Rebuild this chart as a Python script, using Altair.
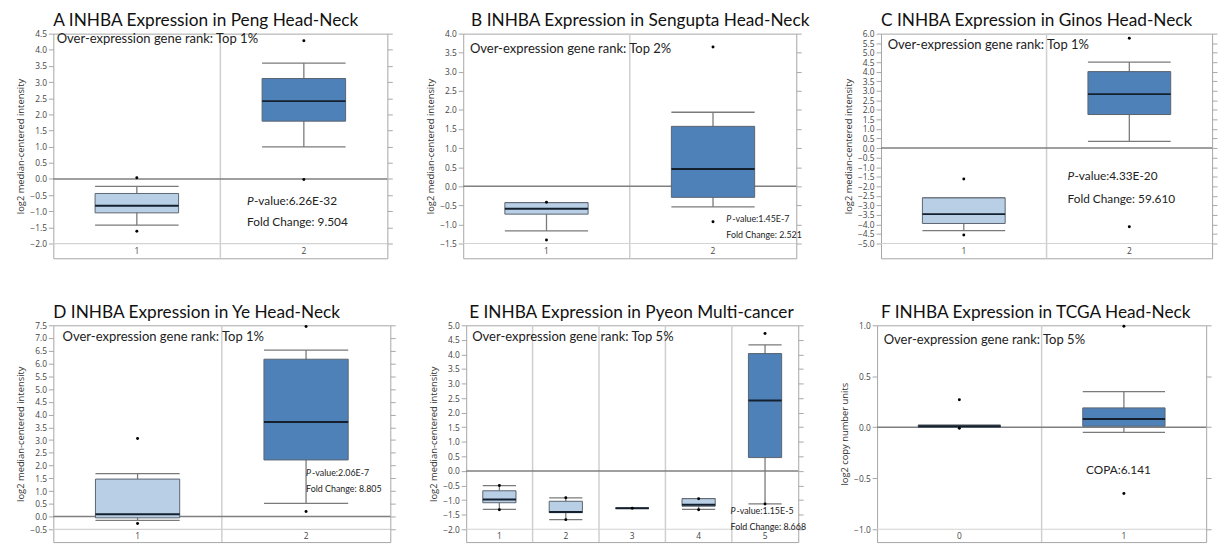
import altair as alt
import pandas as pd

FONT = "Lato"
AXFONT = "Open Sans"
LIGHT = "#B9CFE5"
DARK = "#4F81B9"

# ---------------- data ----------------
A_cats = ["1", "2"]
A_wlo = [-1.43, 0.99]
A_q1 = [-1.05, 1.79]
A_med = [-0.83, 2.41]
A_q3 = [-0.45, 3.11]
A_whi = [-0.23, 3.59]
A_out_cat = ["1", "1", "2", "2"]
A_out_val = [0.04, -1.62, 4.28, -0.02]

B_cats = ["1", "2"]
B_wlo = [-1.17, -0.54]
B_q1 = [-0.73, -0.29]
B_med = [-0.59, 0.45]
B_q3 = [-0.43, 1.57]
B_whi = [-0.43, 1.94]
B_out_cat = ["1", "1", "2", "2"]
B_out_val = [-0.42, -1.41, 3.65, -0.93]

C_cats = ["1", "2"]
C_wlo = [-4.33, 0.35]
C_q1 = [-3.95, 1.76]
C_med = [-3.46, 2.83]
C_q3 = [-2.61, 4.01]
C_whi = [-2.61, 4.51]
C_out_cat = ["1", "1", "2", "2"]
C_out_val = [-1.62, -4.55, 5.76, -4.12]

D_cats = ["1", "2"]
D_wlo = [-0.15, 0.52]
D_q1 = [-0.05, 2.22]
D_med = [0.09, 3.71]
D_q3 = [1.47, 6.17]
D_whi = [1.68, 6.53]
D_out_cat = ["1", "1", "2", "2"]
D_out_val = [3.06, -0.27, 7.45, 0.20]

E_cats = ["1", "2", "3", "4", "5"]
E_wlo = [-1.32, -1.67, -1.28, -1.32, -1.13]
E_q1 = [-1.09, -1.43, -1.28, -1.21, 0.46]
E_med = [-0.98, -1.41, -1.28, -1.16, 2.42]
E_q3 = [-0.68, -1.04, -1.28, -0.95, 4.03]
E_whi = [-0.50, -0.92, -1.28, -0.95, 4.33]
E_out_cat = ["1", "1", "2", "2", "3", "4", "4", "5", "5"]
E_out_val = [-0.50, -1.33, -0.92, -1.67, -1.28, -0.95, -1.33, 4.72, -1.13]

F_cats = ["0", "1"]
F_wlo = [0.0, -0.05]
F_q1 = [0.0, 0.01]
F_med = [0.01, 0.08]
F_q3 = [0.02, 0.19]
F_whi = [0.02, 0.35]
F_out_cat = ["0", "0", "1", "1"]
F_out_val = [0.27, -0.01, 0.99, -0.65]

Y_TITLE = "log2 median-centered intensity"
F_Y_TITLE = "log2 copy number units"


def ticks(lo, hi, step):
    out = []
    k = 0
    while lo + k * step <= hi + 1e-9:
        out.append(round(lo + k * step, 2))
        k += 1
    return out


def panel(title, cats, wlo, q1, med, q3, whi, out_cat, out_val, tvals, dmin, dmax,
          ytitle, width, height, rank_text, rank_xy, stats, stat_size, title_offset, title_dx):
    n = len(cats)
    box = pd.DataFrame({"cat": cats, "wlo": wlo, "q1": q1, "med": med, "q3": q3, "whi": whi})
    box["pos"] = list(range(1, n + 1))
    box["xl"] = box["pos"] - 0.25
    box["xr"] = box["pos"] + 0.25
    box["grp"] = ["normal"] * (n - 1) + ["tumor"]
    box["ylab"] = (min(tvals) + dmin) / 2
    outs = pd.DataFrame({"cat": out_cat, "val": out_val})
    outs["pos"] = [cats.index(c) + 1 for c in out_cat]
    divs = pd.DataFrame({"x": [i + 0.5 for i in range(1, n)]})
    zero = pd.DataFrame({"y": [0.0]})
    low = pd.DataFrame({"y": [min(tvals)]})

    xs = alt.Scale(domain=[0.5, n + 0.5], nice=False, zero=False)
    ys = alt.Scale(domain=[dmin, dmax], nice=False, zero=False)

    def X(f):
        return alt.X(f, type="quantitative", scale=xs, axis=None)

    def Y(f, axis=None):
        return alt.Y(f, type="quantitative", scale=ys, axis=axis)

    left_axis = alt.Axis(orient="left", values=tvals, format=".1f", title=ytitle, grid=False,
                         domain=False, tickSize=5, tickColor="#a8a8a8", labelFontSize=8.5,
                         labelFont=AXFONT, labelColor="#444", labelPadding=2,
                         titleFont=AXFONT, titleFontSize=9.5, titleFontWeight="normal",
                         titleColor="#333", titlePadding=4)
    right_axis = alt.Axis(orient="right", values=tvals, labels=False, title=None, grid=False,
                          domain=False, tickSize=5, tickColor="#a8a8a8")

    layers = []
    if n > 1:
        layers.append(alt.Chart(divs).mark_rule(color="#cfcfcf", strokeWidth=1.5).encode(x=X("x")))
    layers.append(alt.Chart(low).mark_rule(color="#d3d3d3", strokeWidth=1.2).encode(y=Y("y")))
    layers.append(alt.Chart(zero).mark_rule(color="#7f7f7f", strokeWidth=1.5).encode(y=Y("y")))
    layers.append(alt.Chart(box).mark_rule(color="#7a7a7a", strokeWidth=1.3).encode(
        x=X("pos"), y=Y("wlo", right_axis), y2="whi"))
    layers.append(alt.Chart(box).mark_rule(color="#7a7a7a", strokeWidth=1.3).encode(
        x=X("xl"), x2="xr", y=Y("whi")))
    layers.append(alt.Chart(box).mark_rule(color="#7a7a7a", strokeWidth=1.3).encode(
        x=X("xl"), x2="xr", y=Y("wlo")))
    layers.append(alt.Chart(box).mark_rect(stroke="#5a6470", strokeWidth=1).encode(
        x=X("xl"), x2="xr", y=Y("q1", left_axis), y2="q3",
        color=alt.Color("grp:N", scale=alt.Scale(domain=["normal", "tumor"], range=[LIGHT, DARK]),
                        legend=None)))
    layers.append(alt.Chart(box).mark_rule(color="#15202e", strokeWidth=2).encode(
        x=X("xl"), x2="xr", y=Y("med")))
    layers.append(alt.Chart(outs).mark_circle(color="#000", opacity=1, size=9).encode(
        x=X("pos"), y=Y("val")))
    layers.append(alt.Chart(box).mark_text(font=AXFONT, fontSize=8.5, color="#444",
                                           baseline="middle").encode(
        x=X("pos"), y=Y("ylab"), text="cat:N"))
    rk = pd.DataFrame({"t": [rank_text], "x": [rank_xy[0]], "y": [rank_xy[1]]})
    layers.append(alt.Chart(rk).mark_text(font=FONT, fontSize=13.2, color="#222", align="left",
                                          baseline="middle").encode(
        x=X("x"), y=Y("y"), text="t:N"))
    for (ital, rest, sx, sy, pdx) in stats:
        if ital:
            d1 = pd.DataFrame({"t": [ital], "x": [sx], "y": [sy]})
            layers.append(alt.Chart(d1).mark_text(font=FONT, fontSize=stat_size, fontStyle="italic",
                                                  color="#222", align="left", baseline="middle").encode(
                x=X("x"), y=Y("y"), text="t:N"))
        d2 = pd.DataFrame({"t": [rest], "x": [sx], "y": [sy]})
        layers.append(alt.Chart(d2).mark_text(font=FONT, fontSize=stat_size, color="#222",
                                              align="left", baseline="middle", dx=pdx).encode(
            x=X("x"), y=Y("y"), text="t:N"))
    return alt.layer(*layers).properties(
        width=width, height=height,
        title=alt.TitleParams(title, anchor="start", frame="group", offset=title_offset, dx=title_dx,
                              font=FONT, fontSize=17.5, fontWeight="normal", color="#111"))


RANK1 = "Over-expression gene rank: Top 1%"
RANK2 = "Over-expression gene rank: Top 2%"
RANK5 = "Over-expression gene rank: Top 5%"

pA = panel("A INHBA Expression in Peng Head-Neck", A_cats, A_wlo, A_q1, A_med, A_q3, A_whi,
           A_out_cat, A_out_val, ticks(-2.0, 4.5, 0.5), -2.457, 4.5, Y_TITLE, 339, 228,
           RANK1, (0.52, 4.32),
           [("P", "-value:6.26E-32", 1.66, -0.68, 7), ("", "Fold Change: 9.504", 1.66, -1.34, 0)],
           12, 0, 0)
pB = panel("B INHBA Expression in Sengupta Head-Neck", B_cats, B_wlo, B_q1, B_med, B_q3, B_whi,
           B_out_cat, B_out_val, ticks(-1.5, 4.0, 0.5), -1.887, 4.0, Y_TITLE, 338, 228,
           RANK2, (0.54, 3.6),
           [("P", "-value:1.45E-7", 2.08, -0.87, 6), ("", "Fold Change: 2.521", 2.08, -1.29, 0)],
           9, 0, 8)
pC = panel("C INHBA Expression in Ginos Head-Neck", C_cats, C_wlo, C_q1, C_med, C_q3, C_whi,
           C_out_cat, C_out_val, ticks(-5.0, 6.0, 0.5), -5.775, 6.0, Y_TITLE, 336, 228,
           RANK1, (0.54, 5.38),
           [("P", "-value:4.33E-20", 1.627, -1.49, 7), ("", "Fold Change: 59.610", 1.627, -2.66, 0)],
           12, 0, 0)
pD = panel("D INHBA Expression in Ye Head-Neck", D_cats, D_wlo, D_q1, D_med, D_q3, D_whi,
           D_out_cat, D_out_val, ticks(-0.5, 7.5, 0.5), -1.0, 7.5, Y_TITLE, 342, 220,
           RANK1, (0.555, 7.02),
           [("P", "-value:2.06E-7", 2.0, 1.72, 6), ("", "Fold Change: 8.805", 2.0, 1.06, 0)],
           9, 0, 0)
pE = panel("E INHBA Expression in Pyeon Multi-cancer", E_cats, E_wlo, E_q1, E_med, E_q3, E_whi,
           E_out_cat, E_out_val, ticks(-2.0, 5.0, 0.5), -2.44, 5.0, Y_TITLE, 337, 220,
           RANK5, (0.59, 4.58),
           [("P", "-value:1.15E-5", 4.48, -1.36, 6), ("", "Fold Change: 8.668", 4.48, -1.91, 0)],
           9, 0, 3)
pF = panel("F INHBA Expression in TCGA Head-Neck", F_cats, F_wlo, F_q1, F_med, F_q3, F_whi,
           F_out_cat, F_out_val, ticks(-1.0, 1.0, 0.5), -1.126, 1.0, F_Y_TITLE, 334, 220,
           RANK5, (0.54, 0.86),
           [("", "COPA:6.141", 1.77, -0.415, 0)],
           12, 0, 4)

row1 = alt.hconcat(pA, pB, pC, spacing=32)
row2 = alt.hconcat(pD, pE, pF, spacing=32)
chart = alt.vconcat(row1, row2, spacing=44).properties(
    padding={"left": 7, "top": 0, "right": 0, "bottom": 0},
    background="white"
).configure_view(stroke="#a6a6a6", strokeWidth=1)

chart.save("out.html", embed_options={"renderer": "svg", "actions": False})
